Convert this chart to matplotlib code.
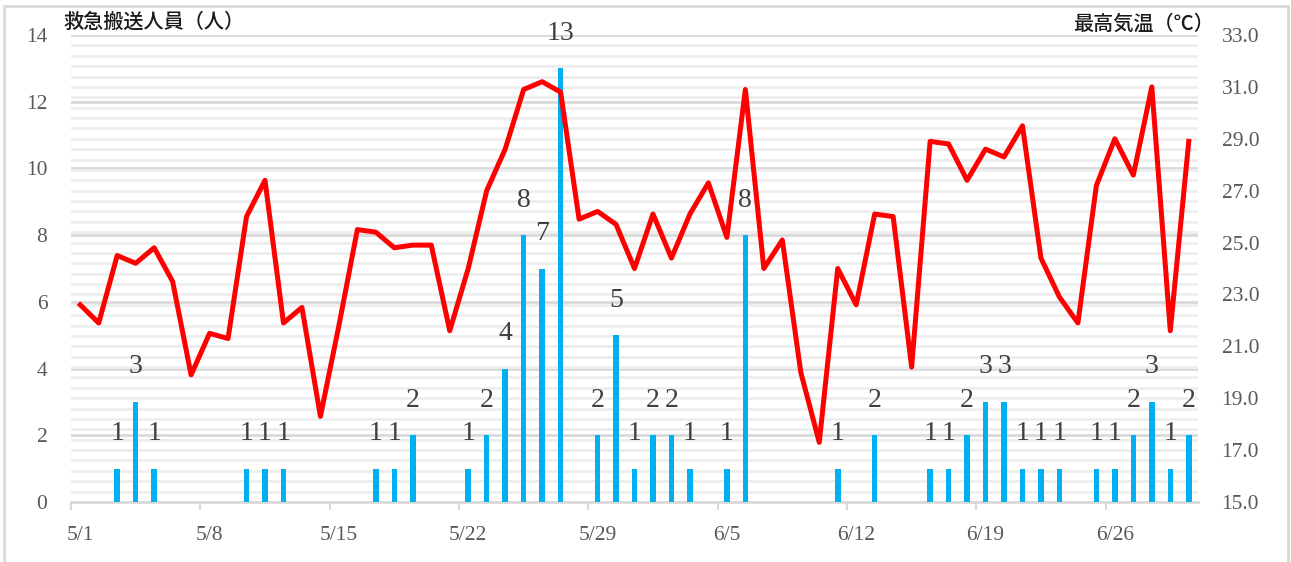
import numpy as np
import matplotlib
matplotlib.use("Agg")
import matplotlib.pyplot as plt
from matplotlib.ticker import FixedLocator
from matplotlib.patches import Rectangle

# --- données ---
dates = [f"5/{d}" for d in range(1, 32)] + [f"6/{d}" for d in range(1, 31)]

patients = [0, 0, 1, 3, 1, 0, 0, 0, 0, 1,
            1, 1, 0, 0, 0, 0, 1, 1, 2, 0,
            0, 1, 2, 4, 8, 7, 13, 0, 2, 5,
            1, 2, 2, 1, 0, 1, 8, 0, 0, 0,
            0, 1, 0, 2, 0, 0, 1, 1, 2, 3,
            3, 1, 1, 1, 0, 1, 1, 2, 3, 1,
            2]

max_temp = [22.6, 21.9, 24.5, 24.2, 24.8, 23.5, 19.9, 21.5, 21.3, 26.0,
            27.4, 21.9, 22.5, 18.3, 21.8, 25.5, 25.4, 24.8, 24.9, 24.9,
            21.6, 24.0, 27.0, 28.6, 30.9, 31.2, 30.8, 25.9, 26.2, 25.7,
            24.0, 26.1, 24.4, 26.1, 27.3, 25.2, 30.9, 24.0, 25.1, 20.0,
            17.3, 24.0, 22.6, 26.1, 26.0, 20.2, 28.9, 28.8, 27.4, 28.6,
            28.3, 29.5, 24.4, 22.9, 21.9, 27.2, 29.0, 27.6, 31.0, 21.6,
            28.9]

left_ticks = list(range(0, 15, 2))
right_ticks = list(np.arange(15, 33.1, 2))

TICK_COLOR = "#595959"
LABEL_COLOR = "#404040"
SERIF = "Liberation Serif"
JP = ["Noto Sans CJK JP", "DejaVu Sans"]

x = np.arange(len(dates))

fig = plt.figure(figsize=(12.91, 5.62), dpi=100)
ax = fig.add_axes([71 / 1291, 1 - 502 / 562, (1198 - 71) / 1291, (502 - 35) / 562])
ax2 = ax.twinx()

# --- barres (axe gauche) ---
ax.bar(x, patients, width=0.3, color="#00B0F0", zorder=3)
ax.set_ylim(0, 14)
ax.set_xlim(-0.5, len(dates) - 0.5)
ax.yaxis.set_major_locator(FixedLocator(left_ticks))
ax.set_yticklabels([str(v) for v in left_ticks], fontfamily=SERIF, fontsize=15.5, color=TICK_COLOR)

# grille secondaire : pas de 0.4 degré sur l'axe droit
minor_t = np.arange(15, 33.01, 0.4)
ax.yaxis.set_minor_locator(FixedLocator((minor_t - 15) / 18 * 14))
ax.grid(axis="y", which="minor", color="#EEEEEE", lw=2, zorder=0)
ax.grid(axis="y", which="major", color="#D9D9D9", lw=2, zorder=0)
ax.tick_params(axis="y", which="both", length=0, pad=17)

ax.xaxis.set_major_locator(FixedLocator(x[::7]))
ax.set_xticklabels(dates[::7], fontfamily=SERIF, fontsize=15.5, color=TICK_COLOR)
ax.xaxis.set_minor_locator(FixedLocator(np.arange(-0.5, len(dates), 7)))
ax.tick_params(axis="x", which="major", length=0, pad=17)
ax.tick_params(axis="x", which="minor", length=6, width=1.5, color="#D9D9D9")

for s in ["top", "left", "right"]:
    ax.spines[s].set_visible(False)
ax.spines["bottom"].set_color("#D9D9D9")
ax.spines["bottom"].set_linewidth(2)

# --- température (axe droit) ---
ax2.plot(x, max_temp, color="#FF0000", lw=3.6, zorder=4)
ax2.set_ylim(15, 33)
ax2.yaxis.set_major_locator(FixedLocator(right_ticks))
ax2.set_yticklabels([f"{v:.1f}" for v in right_ticks], fontfamily=SERIF, fontsize=15.5, color=TICK_COLOR)
ax2.tick_params(axis="y", length=0, pad=17)
for s in ax2.spines.values():
    s.set_visible(False)

# étiquettes des barres
for xi, v in zip(x, patients):
    if v > 0:
        ax2.text(xi, v + 1.05, str(v), transform=ax.transData, ha="center", va="center",
                 fontfamily=SERIF, fontsize=20, color=LABEL_COLOR, zorder=6)

# titres des axes
fig.text(63 / 1291, 1 - 22 / 562, "救急搬送人員（人）", family=JP, fontsize=14.5,
         fontweight="medium", color="#1a1a1a", ha="left", va="center")
fig.text(1073 / 1291, 1 - 24 / 562, "最高気温（℃）", family=JP, fontsize=14.5,
         fontweight="medium", color="#1a1a1a", ha="left", va="center")

# cadre
fig.patches.append(Rectangle((4 / 1291, -0.02), (1288 - 4) / 1291, 1.02 - 6 / 562,
                             transform=fig.transFigure, fill=False, edgecolor="#D9D9D9", lw=2))

fig.savefig("out.png", dpi=100)
